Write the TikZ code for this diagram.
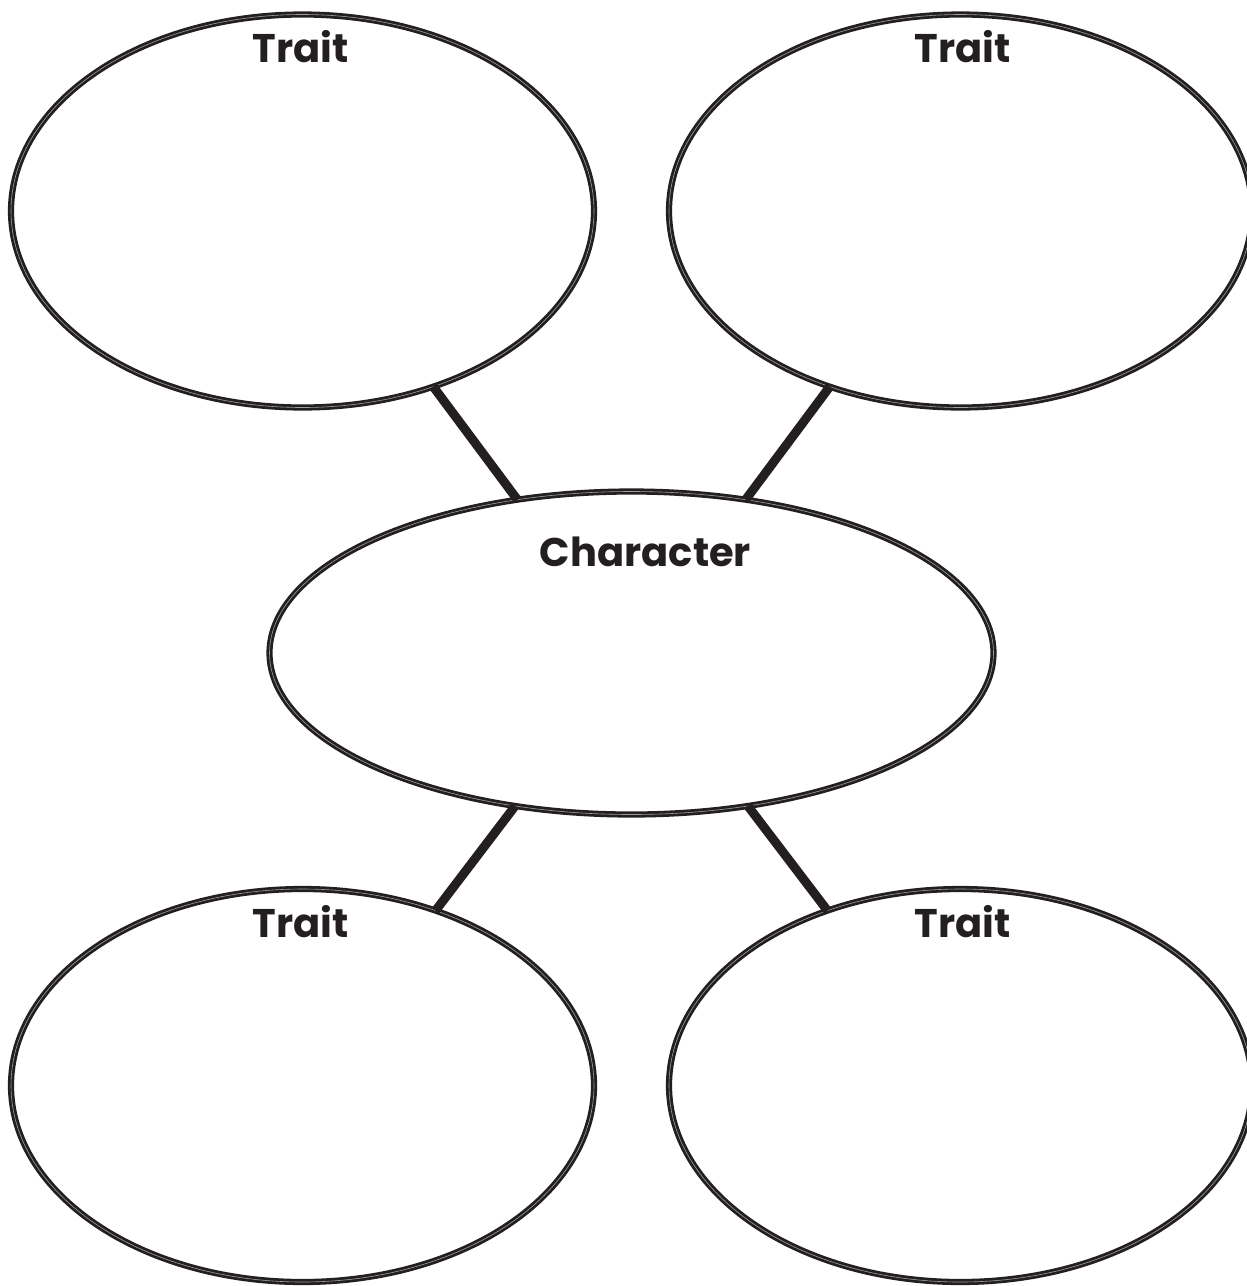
\documentclass[tikz,border=0pt]{standalone}
\usepackage{fontspec}
\setmainfont{Poppins}
\usetikzlibrary{shapes.geometric}
\definecolor{ink}{HTML}{231F20}
\begin{document}
\begin{tikzpicture}[x=1pt,y=-1pt,
  oval/.style={ellipse, draw=ink, line width=2.8pt, double=gray!75, double distance=0.6pt, inner sep=0pt, outer sep=0pt},
  trait/.style={oval, minimum width=583pt, minimum height=393pt},
  lbl/.style={font=\fontsize{40}{40}\selectfont\bfseries, text=ink, inner sep=0pt, anchor=base},
  link/.style={draw=ink, line width=9pt}]
\useasboundingbox[fill=white] (0,0) rectangle (1247,1286);
\node[trait] (tl) at (302.5,211) {};
\node[trait] (tr) at (960.5,211) {};
\node[trait] (bl) at (302.5,1085.5) {};
\node[trait] (br) at (960.5,1085.5) {};
\node[oval, minimum width=724pt, minimum height=323pt] (c) at (631.5,653) {};
\draw[link] (tl) -- (c);
\draw[link] (tr) -- (c);
\draw[link] (bl) -- (c);
\draw[link] (br) -- (c);
\node[lbl] (tlt) at (300.5,62.5) {Trait};
\node[lbl] (trt) at (962.5,62.5) {Trait};
\node[lbl] (blt) at (300.5,937.5) {Trait};
\node[lbl] (brt) at (962.5,937.5) {Trait};
\node[lbl] (ct) at (645.5,566) {Character};
\end{tikzpicture}
\end{document}
